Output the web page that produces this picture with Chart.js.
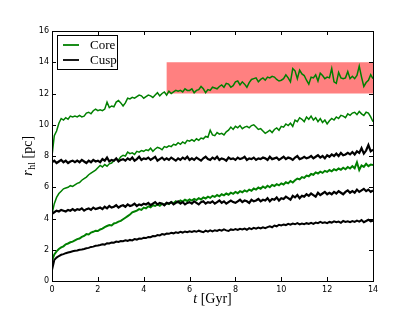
<!DOCTYPE html>
<html><head><meta charset="utf-8">
<script src="https://cdn.jsdelivr.net/npm/chart.js@4.4.0/dist/chart.umd.min.js"></script>
<style>html,body{margin:0;padding:0;background:#fff}#w{width:415px;height:313px;position:relative}</style>
</head><body><div id="w"><canvas id="c" width="415" height="313"></canvas></div>
<script>
const time = [0,0.1,0.2,0.3,0.4,0.5,0.6,0.7,0.8,0.9,
1,1.1,1.2,1.3,1.4,1.5,1.6,1.7,1.8,1.9,
2,2.1,2.2,2.3,2.4,2.5,2.6,2.7,2.8,2.9,
3,3.1,3.2,3.3,3.4,3.5,3.6,3.7,3.8,3.9,
4,4.1,4.2,4.3,4.4,4.5,4.6,4.7,4.8,4.9,
5,5.1,5.2,5.3,5.4,5.5,5.6,5.7,5.8,5.9,
6,6.1,6.2,6.3,6.4,6.5,6.6,6.7,6.8,6.9,
7,7.1,7.2,7.3,7.4,7.5,7.6,7.7,7.8,7.9,
8,8.1,8.2,8.3,8.4,8.5,8.6,8.7,8.8,8.9,
9,9.1,9.2,9.3,9.4,9.5,9.6,9.7,9.8,9.9,
10,10.1,10.2,10.3,10.4,10.5,10.6,10.7,10.8,10.9,
11,11.1,11.2,11.3,11.4,11.5,11.6,11.7,11.8,11.9,
12,12.1,12.2,12.3,12.4,12.5,12.6,12.7,12.8,12.9,
13,13.1,13.2,13.3,13.4,13.5,13.6,13.7,13.8,13.9,14];

const core1 = [8.0,9.3,9.6,10.1,10.4,10.3,10.45,10.35,10.55,10.5,10.55,
10.5,10.6,10.5,10.55,10.75,10.8,10.7,10.9,11.0,10.9,
10.95,10.9,11.0,11.45,11.1,11.2,11.15,11.45,11.55,11.4,
11.2,11.4,11.7,11.65,11.75,11.7,11.8,11.9,11.85,11.7,
11.8,11.9,11.85,11.75,11.9,12.05,11.85,12.0,12.1,11.9,
12.15,12.0,12.1,12.2,12.15,12.2,12.1,12.3,12.2,12.2,
12.3,12.05,12.2,12.25,12.45,12.3,12.05,12.25,12.2,12.4,
12.35,12.3,12.45,12.55,12.4,12.65,12.6,12.4,12.5,12.75,
12.8,12.55,12.75,12.6,12.4,12.7,12.9,12.95,13.0,12.75,
12.9,13.0,12.85,13.05,13.0,13.1,13.05,12.9,12.8,12.85,
12.95,13.2,13.0,12.75,13.6,13.45,12.95,13.5,13.25,13.15,
12.85,12.6,13.05,13.0,13.2,12.8,13.3,13.15,12.95,13.05,
13.0,13.6,12.75,12.65,13.35,13.0,12.95,13.0,13.4,12.95,
13.1,12.95,13.15,13.75,13.05,12.45,12.7,12.85,13.2,12.95];

const core2 = [4.3,4.95,5.35,5.6,5.75,5.9,5.95,6.0,6.1,6.05,6.15,
6.25,6.3,6.45,6.55,6.65,6.8,6.9,7.0,7.1,7.25,
7.4,7.3,7.45,7.35,7.5,7.55,7.7,7.8,7.75,7.95,
8.05,8.0,8.25,8.15,8.2,8.1,8.3,8.25,8.35,8.3,
8.4,8.35,8.5,8.3,8.45,8.55,8.5,8.4,8.6,8.55,
8.65,8.6,8.75,8.7,8.85,8.75,8.9,8.8,9.0,8.95,
9.05,8.95,9.1,9.0,9.15,9.1,9.25,9.2,9.65,9.35,
9.3,9.5,9.4,9.45,9.35,9.55,9.65,9.85,9.7,9.9,
9.8,9.95,9.75,9.85,9.9,9.8,9.95,10.0,9.85,9.7,
9.75,9.6,9.45,9.55,9.65,9.5,9.7,9.8,9.65,9.9,
9.85,10.05,9.95,10.1,9.9,10.3,10.2,10.45,10.35,10.2,
10.5,10.35,10.55,10.3,10.45,10.2,10.4,10.15,10.3,10.05,
10.25,10.4,10.3,10.5,10.4,10.6,10.55,10.45,10.7,10.6,
10.75,10.8,10.65,10.85,10.7,10.6,10.8,10.75,10.5,10.2];

const core3 = [1.3,1.7,1.9,2.05,2.15,2.22,2.35,2.4,2.48,2.52,2.6,
2.68,2.72,2.82,2.88,3.0,2.98,3.1,3.15,3.22,3.2,
3.3,3.35,3.45,3.52,3.58,3.55,3.68,3.72,3.8,3.85,
3.95,4.05,4.15,4.25,4.4,4.45,4.5,4.6,4.55,4.7,
4.65,4.78,4.72,4.85,4.8,4.9,4.82,4.95,4.88,4.98,
4.92,5.05,4.98,5.1,5.02,5.15,5.08,5.2,5.12,5.22,
5.15,5.25,5.18,5.3,5.22,5.35,5.28,5.4,5.32,5.45,
5.38,5.5,5.42,5.55,5.48,5.6,5.52,5.65,5.58,5.7,
5.62,5.75,5.68,5.8,5.72,5.85,5.78,5.92,5.85,5.98,
5.9,6.05,5.95,6.1,6.0,6.15,6.08,6.2,6.12,6.25,
6.18,6.32,6.25,6.4,6.3,6.45,6.55,6.5,6.65,6.6,
6.75,6.7,6.85,6.8,6.95,6.88,7.0,6.92,7.05,6.98,
7.1,7.02,7.15,7.08,7.2,7.12,7.25,7.15,7.3,7.2,
7.35,7.22,7.6,7.1,7.4,7.3,7.5,7.35,7.45,7.42];

const cusp1 = [7.6,7.7,7.55,7.65,7.75,7.6,7.7,7.55,7.65,7.7,7.6,
7.7,7.6,7.75,7.65,7.55,7.7,7.6,7.75,7.65,7.7,
7.6,7.8,7.7,7.9,7.65,7.75,7.7,7.85,7.65,7.75,
7.8,7.7,7.85,7.75,7.9,7.7,7.8,7.95,7.75,7.85,
7.8,7.9,7.75,7.85,7.95,7.7,7.8,7.9,7.75,7.85,
7.75,7.9,7.8,7.7,7.85,7.75,7.9,7.8,7.95,7.75,
7.85,7.75,7.9,7.8,7.7,7.85,7.95,7.8,7.75,7.9,
7.8,7.95,7.75,7.85,7.8,7.7,7.9,7.8,7.85,7.75,
7.9,7.8,7.85,7.95,7.75,7.85,7.8,7.9,7.75,7.85,
7.8,7.9,7.85,7.75,7.95,7.8,7.85,7.9,7.75,7.85,
7.95,7.8,7.9,7.85,7.75,7.9,8.0,7.8,7.85,7.95,
7.85,7.9,8.0,7.85,7.95,8.05,7.9,8.0,7.85,8.05,
7.95,8.1,8.0,8.15,8.0,8.2,8.05,8.1,8.2,8.1,
8.25,8.1,8.3,8.2,8.5,8.15,8.35,8.7,8.3,8.4];

const cusp2 = [4.3,4.4,4.5,4.45,4.55,4.5,4.45,4.55,4.5,4.6,4.5,
4.6,4.55,4.65,4.5,4.6,4.65,4.55,4.7,4.6,4.65,
4.7,4.6,4.75,4.65,4.8,4.7,4.75,4.85,4.7,4.8,
4.85,4.75,4.9,4.8,4.85,4.95,4.8,4.9,4.85,4.95,
4.9,5.0,4.85,4.95,5.05,4.9,5.0,4.95,4.85,5.0,
4.95,5.05,4.9,5.0,5.1,4.95,5.05,4.9,5.0,5.05,
4.95,5.1,5.0,4.9,5.05,5.1,4.95,5.05,5.0,5.1,
4.95,5.05,5.15,5.0,5.1,4.95,5.05,5.15,5.05,5.0,
5.1,5.2,5.05,5.15,5.1,5.0,5.2,5.1,5.15,5.25,
5.1,5.2,5.15,5.3,5.1,5.25,5.2,5.35,5.15,5.3,
5.25,5.4,5.3,5.2,5.45,5.35,5.5,5.3,5.45,5.4,
5.55,5.45,5.6,5.5,5.4,5.65,5.5,5.6,5.7,5.55,
5.65,5.55,5.7,5.6,5.75,5.65,5.55,5.7,5.8,5.65,
5.75,5.65,5.85,5.7,5.8,5.9,5.75,5.85,5.7,5.8];

const cusp3 = [0.7,1.35,1.5,1.6,1.68,1.72,1.78,1.82,1.86,1.9,1.93,
1.95,2.0,2.02,2.05,2.1,2.12,2.18,2.2,2.25,2.27,
2.3,2.35,2.33,2.42,2.4,2.47,2.45,2.52,2.5,2.56,
2.55,2.6,2.57,2.63,2.6,2.68,2.65,2.72,2.7,2.76,
2.75,2.82,2.8,2.88,2.86,2.94,2.92,3.0,2.97,3.04,
3.02,3.08,3.05,3.12,3.08,3.15,3.1,3.17,3.12,3.18,
3.14,3.2,3.15,3.22,3.17,3.12,3.22,3.16,3.24,3.18,
3.25,3.2,3.28,3.22,3.3,3.24,3.2,3.3,3.26,3.32,
3.27,3.34,3.3,3.36,3.28,3.38,3.32,3.4,3.35,3.42,
3.36,3.44,3.38,3.45,3.5,3.44,3.55,3.5,3.6,3.56,
3.62,3.58,3.66,3.6,3.68,3.63,3.7,3.62,3.68,3.64,
3.7,3.65,3.72,3.66,3.74,3.7,3.78,3.72,3.76,3.7,
3.78,3.74,3.82,3.76,3.8,3.72,3.84,3.78,3.82,3.76,
3.84,3.78,3.86,3.8,3.9,3.76,3.84,3.92,3.82,3.86];

const xTicks = [0,2,4,6,8,10,12,14];
const yTicks = [0,2,4,6,8,10,12,14,16];
const bandX = [5,14];
const bandY = [12,14];
const legendLabels = ['Core','Cusp'];

const GREEN = '#008000', BLACK = '#000000';
const pts = arr => time.map((t,i)=>({x:t,y:arr[i]}));
const ds = (arr,color,w) => ({data:pts(arr),borderColor:color,borderWidth:w,pointRadius:0,tension:0,fill:false});

const band = {id:'band', beforeDatasetsDraw(chart){
  const {ctx,scales:{x,y}} = chart;
  const x0=x.getPixelForValue(bandX[0]), x1=x.getPixelForValue(bandX[1]);
  const y0=y.getPixelForValue(bandY[1]), y1=y.getPixelForValue(bandY[0]);
  ctx.save(); ctx.fillStyle='#ff8080'; ctx.fillRect(x0,y0,x1-x0,y1-y0); ctx.restore();
}};

const frame = {id:'frame', afterDatasetsDraw(chart){
  const {ctx,chartArea:a,scales:{x,y}} = chart;
  ctx.save(); ctx.strokeStyle='#000'; ctx.lineWidth=1;
  ctx.strokeRect(Math.round(a.left)+0.5,Math.round(a.top)+0.5,Math.round(a.right-a.left),Math.round(a.bottom-a.top));
  ctx.beginPath();
  xTicks.forEach(v=>{const p=Math.round(x.getPixelForValue(v))+0.5;
    ctx.moveTo(p,a.bottom); ctx.lineTo(p,a.bottom-4); ctx.moveTo(p,a.top); ctx.lineTo(p,a.top+4);});
  yTicks.forEach(v=>{const p=Math.round(y.getPixelForValue(v))+0.5;
    ctx.moveTo(a.left,p); ctx.lineTo(a.left+4,p); ctx.moveTo(a.right,p); ctx.lineTo(a.right-4,p);});
  ctx.stroke();
  // legend
  const lx=a.left+5, ly=a.top+4;
  ctx.fillStyle='#fff'; ctx.fillRect(lx,ly,60,34);
  ctx.strokeRect(Math.round(lx)+0.5,Math.round(ly)+0.5,60,34);
  const cols=[GREEN,BLACK];
  ctx.font='13px "Liberation Serif"'; ctx.textBaseline='middle'; ctx.textAlign='left';
  legendLabels.forEach((lab,i)=>{
    const yy=ly+10+i*15;
    ctx.strokeStyle=cols[i]; ctx.lineWidth=1.8;
    ctx.beginPath(); ctx.moveTo(lx+6,yy); ctx.lineTo(lx+22,yy); ctx.stroke();
    ctx.fillStyle='#000'; ctx.fillText(lab,lx+33,yy+0.5);
  });
  ctx.restore();
}};

const titles = {id:'titles', afterDraw(chart){
  const {ctx,chartArea:a} = chart;
  ctx.save(); ctx.fillStyle='#000'; ctx.textBaseline='alphabetic'; ctx.textAlign='left';
  const fi='italic 14px "Liberation Serif"', fn='14px "Liberation Serif"';
  ctx.font=fi; const w1=ctx.measureText('t').width;
  ctx.font=fn; const w2=ctx.measureText(' [Gyr]').width;
  let sx=(a.left+a.right)/2-(w1+w2)/2;
  ctx.font=fi; ctx.fillText('t',sx,303);
  ctx.font=fn; ctx.fillText(' [Gyr]',sx+w1,303);
  ctx.translate(32,(a.top+a.bottom)/2);
  ctx.rotate(-Math.PI/2);
  const fs='10px "Liberation Serif"';
  ctx.font=fi; const r1=ctx.measureText('r').width;
  ctx.font=fs; const r2=ctx.measureText('hl').width;
  ctx.font=fn; const r3=ctx.measureText(' [pc]').width;
  let ox=-(r1+r2+r3)/2;
  ctx.font=fi; ctx.fillText('r',ox,0);
  ctx.font=fs; ctx.fillText('hl',ox+r1+0.5,3);
  ctx.font=fn; ctx.fillText(' [pc]',ox+r1+r2+0.5,0);
  ctx.restore();
}};

new Chart(document.getElementById('c'),{
  type:'line',
  data:{datasets:[
    ds(cusp1,BLACK,2.2), ds(cusp2,BLACK,2.2), ds(cusp3,BLACK,2.0),
    ds(core1,GREEN,1.5), ds(core2,GREEN,1.5), ds(core3,GREEN,2.0)
  ]},
  options:{
    responsive:false, animation:false, devicePixelRatio:1,
    layout:{padding:{left:0,top:31,right:42,bottom:0}},
    plugins:{legend:{display:false},tooltip:{enabled:false}},
    scales:{
      x:{type:'linear',min:0,max:14,
        afterFit(s){s.height=32;},
        afterBuildTicks(s){s.ticks=xTicks.map(v=>({value:v}));},
        grid:{display:false,drawTicks:false}, border:{display:false},
        ticks:{color:'#000',font:{family:'DejaVu Sans',size:8},padding:4,maxRotation:0,autoSkip:false}},
      y:{type:'linear',min:0,max:16,
        afterFit(s){s.width=52;},
        afterBuildTicks(s){s.ticks=yTicks.map(v=>({value:v}));},
        grid:{display:false,drawTicks:false}, border:{display:false},
        ticks:{color:'#000',font:{family:'DejaVu Sans',size:8},padding:3,autoSkip:false}}
    }
  },
  plugins:[band,frame,titles]
});
</script></body></html>
